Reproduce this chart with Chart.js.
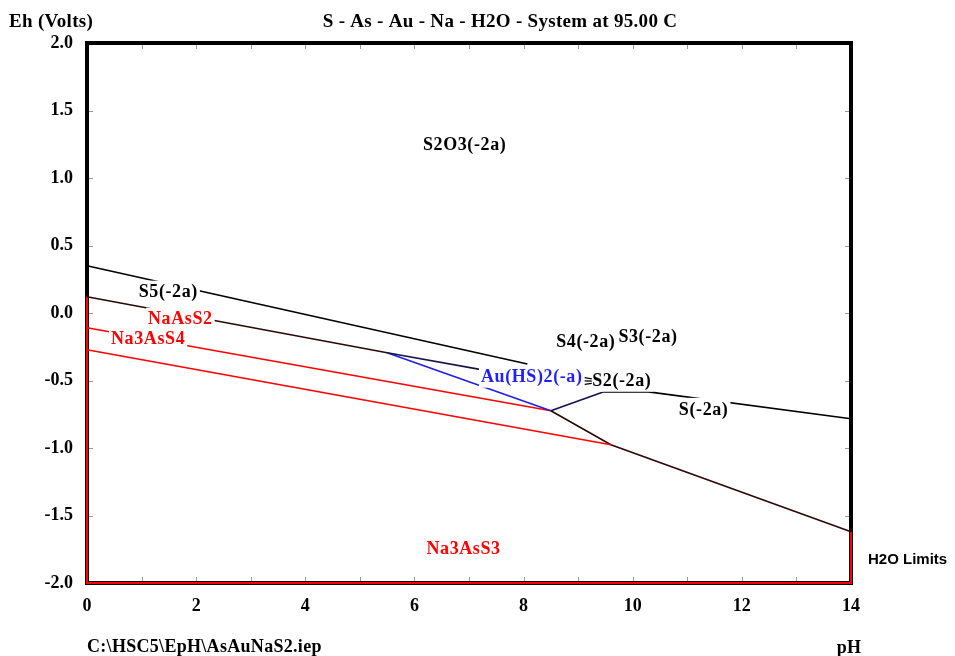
<!DOCTYPE html>
<html>
<head>
<meta charset="utf-8">
<script src="https://cdn.jsdelivr.net/npm/chart.js@4"></script>
<style>
  html,body{margin:0;padding:0;background:#fff;}
  #wrap{width:955px;height:656px;}
</style>
</head>
<body>
<div id="wrap"><canvas id="c" width="955" height="656"></canvas></div>
<script>
// ---- tick labels ----
const xTickValues = [0, 2, 4, 6, 8, 10, 12, 14];
const yTickValues = [2.0, 1.5, 1.0, 0.5, 0.0, -0.5, -1.0, -1.5, -2.0];

// ---- boundary lines, [pH, Eh] ----
const lineS2O3_S5     = [[0, 0.35], [8.07, -0.378]];
const lineS5_NaAsS2   = [[0, 0.12], [5.5, -0.294]];
const lineAuUpper     = [[5.5, -0.294], [7.3, -0.425]];
const lineAuBlue      = [[5.5, -0.294], [8.5, -0.724]];
const lineNaAsS2_Na3AsS4 = [[0, -0.109], [8.5, -0.724]];
const lineNa3AsS4_Na3AsS3 = [[0, -0.272], [9.6, -0.976]];
const lineLower       = [[8.5, -0.724], [9.6, -0.976], [14, -1.62]];
const lineS2Left      = [[8.5, -0.724], [9.47, -0.584]];
const lineS2_S        = [[9.47, -0.584], [10.29, -0.584], [14, -0.783]];
const lineFrameRed    = [[0, 0.12], [0, -2], [14, -2], [14, -1.62]];
const tinyA = [[9.12, -0.478], [9.25, -0.488]];
const tinyB = [[9.12, -0.503], [9.25, -0.505]];
const tinyC = [[9.12, -0.528], [9.25, -0.522]];

// ---- region labels ----
const labelNames  = ["S2O3(-2a)", "S5(-2a)", "NaAsS2", "Na3AsS4", "S4(-2a)", "S3(-2a)", "Au(HS)2(-a)", "S2(-2a)", "S(-2a)", "Na3AsS3"];
const labelPH     = [6.92, 1.49, 1.71, 1.12, 9.14, 10.28, 8.15, 9.8, 11.3, 6.9];
const labelEh     = [1.248, 0.158, -0.042, -0.19, -0.213, -0.176, -0.472, -0.502, -0.71, -1.74];
const labelColors = ["#000", "#000", "#ff0000", "#ff0000", "#000", "#000", "#1f1fff", "#000", "#000", "#ff0000"];

const toPts = a => a.map(p => ({x: p[0], y: p[1]}));
function ds(points, color, width) {
  return {data: toPts(points), showLine: true, borderColor: color, borderWidth: width,
          pointRadius: 0, fill: false, tension: 0, clip: false};
}

const SERIF = "'Liberation Serif', 'Times New Roman', serif";

const framePlugin = {
  id: 'frame',
  beforeDatasetsDraw(chart) {
    const {ctx, chartArea: a, scales: {x, y}} = chart;
    ctx.save();
    ctx.strokeStyle = '#9a9a9a';
    ctx.lineWidth = 1;
    ctx.beginPath();
    for (let v = 1; v < 14; v++) {
      const px = Math.round(x.getPixelForValue(v)) + 0.5;
      ctx.moveTo(px, a.bottom); ctx.lineTo(px, a.bottom - 6);
      ctx.moveTo(px, a.top); ctx.lineTo(px, a.top + 6);
    }
    for (let v = -1.5; v <= 1.5; v += 0.5) {
      const py = Math.round(y.getPixelForValue(v)) + 0.5;
      ctx.moveTo(a.left, py); ctx.lineTo(a.left + 6, py);
      ctx.moveTo(a.right, py); ctx.lineTo(a.right - 6, py);
    }
    ctx.stroke();
    ctx.strokeStyle = '#000';
    ctx.lineWidth = 4;
    ctx.strokeRect(a.left, a.top, a.right - a.left, a.bottom - a.top);
    ctx.restore();
  },
  afterDatasetsDraw(chart) {
    const {ctx, scales: {x, y}} = chart;
    ctx.save();
    ctx.font = "bold 18px " + SERIF;
    try { ctx.letterSpacing = '0.6px'; } catch (e) {}
    ctx.textBaseline = 'middle';
    ctx.textAlign = 'center';
    for (let i = 0; i < labelNames.length; i++) {
      const px = x.getPixelForValue(labelPH[i]);
      const py = y.getPixelForValue(labelEh[i]);
      const w = ctx.measureText(labelNames[i]).width;
      ctx.fillStyle = '#fff';
      ctx.fillRect(px - w / 2 - 2, py - 11, w + 4, 22);
      ctx.fillStyle = labelColors[i];
      ctx.fillText(labelNames[i], px, py + 1);
    }
    const tiny = [tinyA, tinyB, tinyC];
    ctx.strokeStyle = '#000';
    ctx.lineWidth = 1.3;
    ctx.beginPath();
    tiny.forEach(seg => {
      ctx.moveTo(x.getPixelForValue(seg[0][0]), y.getPixelForValue(seg[0][1]));
      ctx.lineTo(x.getPixelForValue(seg[1][0]), y.getPixelForValue(seg[1][1]));
    });
    ctx.stroke();
    ctx.restore();
  },
  afterDraw(chart) {
    const {ctx} = chart;
    ctx.save();
    ctx.fillStyle = '#000';
    ctx.textBaseline = 'middle';
    ctx.font = "bold 19px " + SERIF;
    try { ctx.letterSpacing = '0.3px'; } catch (e) {}
    ctx.textAlign = 'center';
    ctx.fillText("S - As - Au - Na - H2O - System at 95.00 C", 500, 22);
    ctx.textAlign = 'left';
    ctx.fillText("Eh (Volts)", 9, 22);
    ctx.font = "bold 18px " + SERIF;
    ctx.fillText("C:\\HSC5\\EpH\\AsAuNaS2.iep", 87, 647);
    ctx.textAlign = 'center';
    ctx.fillText("pH", 849, 648);
    ctx.textAlign = 'left';
    try { ctx.letterSpacing = '0px'; } catch (e) {}
    ctx.font = "bold 15px 'Liberation Sans', Arial, sans-serif";
    ctx.fillText("H2O Limits", 868, 560);
    ctx.restore();
  }
};

new Chart(document.getElementById('c'), {
  type: 'scatter',
  data: {
    datasets: [
      ds(lineS2O3_S5, '#000000', 1.6),
      ds(lineS5_NaAsS2, '#2a0808', 1.6),
      ds(lineAuUpper, '#14144a', 1.6),
      ds(lineAuBlue, '#1f1fe0', 1.6),
      ds(lineNaAsS2_Na3AsS4, '#ff0000', 1.6),
      ds(lineNa3AsS4_Na3AsS3, '#ff0000', 1.6),
      ds(lineLower, '#2a0808', 1.6),
      ds(lineS2Left, '#12124a', 1.6),
      ds(lineS2_S, '#000000', 1.6),
      ds(lineFrameRed, '#ff0000', 2)
    ]
  },
  options: {
    responsive: false,
    animation: false,
    events: [],
    layout: {padding: {left: 0, top: 43, right: 104, bottom: 0}},
    plugins: {legend: {display: false}, tooltip: {enabled: false}, title: {display: false}},
    scales: {
      x: {
        type: 'linear', min: 0, max: 14,
        afterFit(s) { s.height = 73; },
        afterBuildTicks(s) { s.ticks = xTickValues.map(v => ({value: v})); },
        grid: {display: false, drawTicks: false},
        border: {display: false},
        ticks: {
          padding: 13, color: '#000',
          font: {family: SERIF, size: 18, weight: 'bold'},
          maxRotation: 0, autoSkip: false,
          callback: v => String(v)
        }
      },
      y: {
        type: 'linear', min: -2, max: 2,
        afterFit(s) { s.width = 87; },
        afterBuildTicks(s) { s.ticks = yTickValues.map(v => ({value: v})); },
        grid: {display: false, drawTicks: false},
        border: {display: false},
        ticks: {
          padding: 14, color: '#000',
          font: {family: SERIF, size: 18, weight: 'bold'},
          autoSkip: false,
          callback: v => Number(v).toFixed(1)
        }
      }
    }
  },
  plugins: [framePlugin]
});
</script>
</body>
</html>
